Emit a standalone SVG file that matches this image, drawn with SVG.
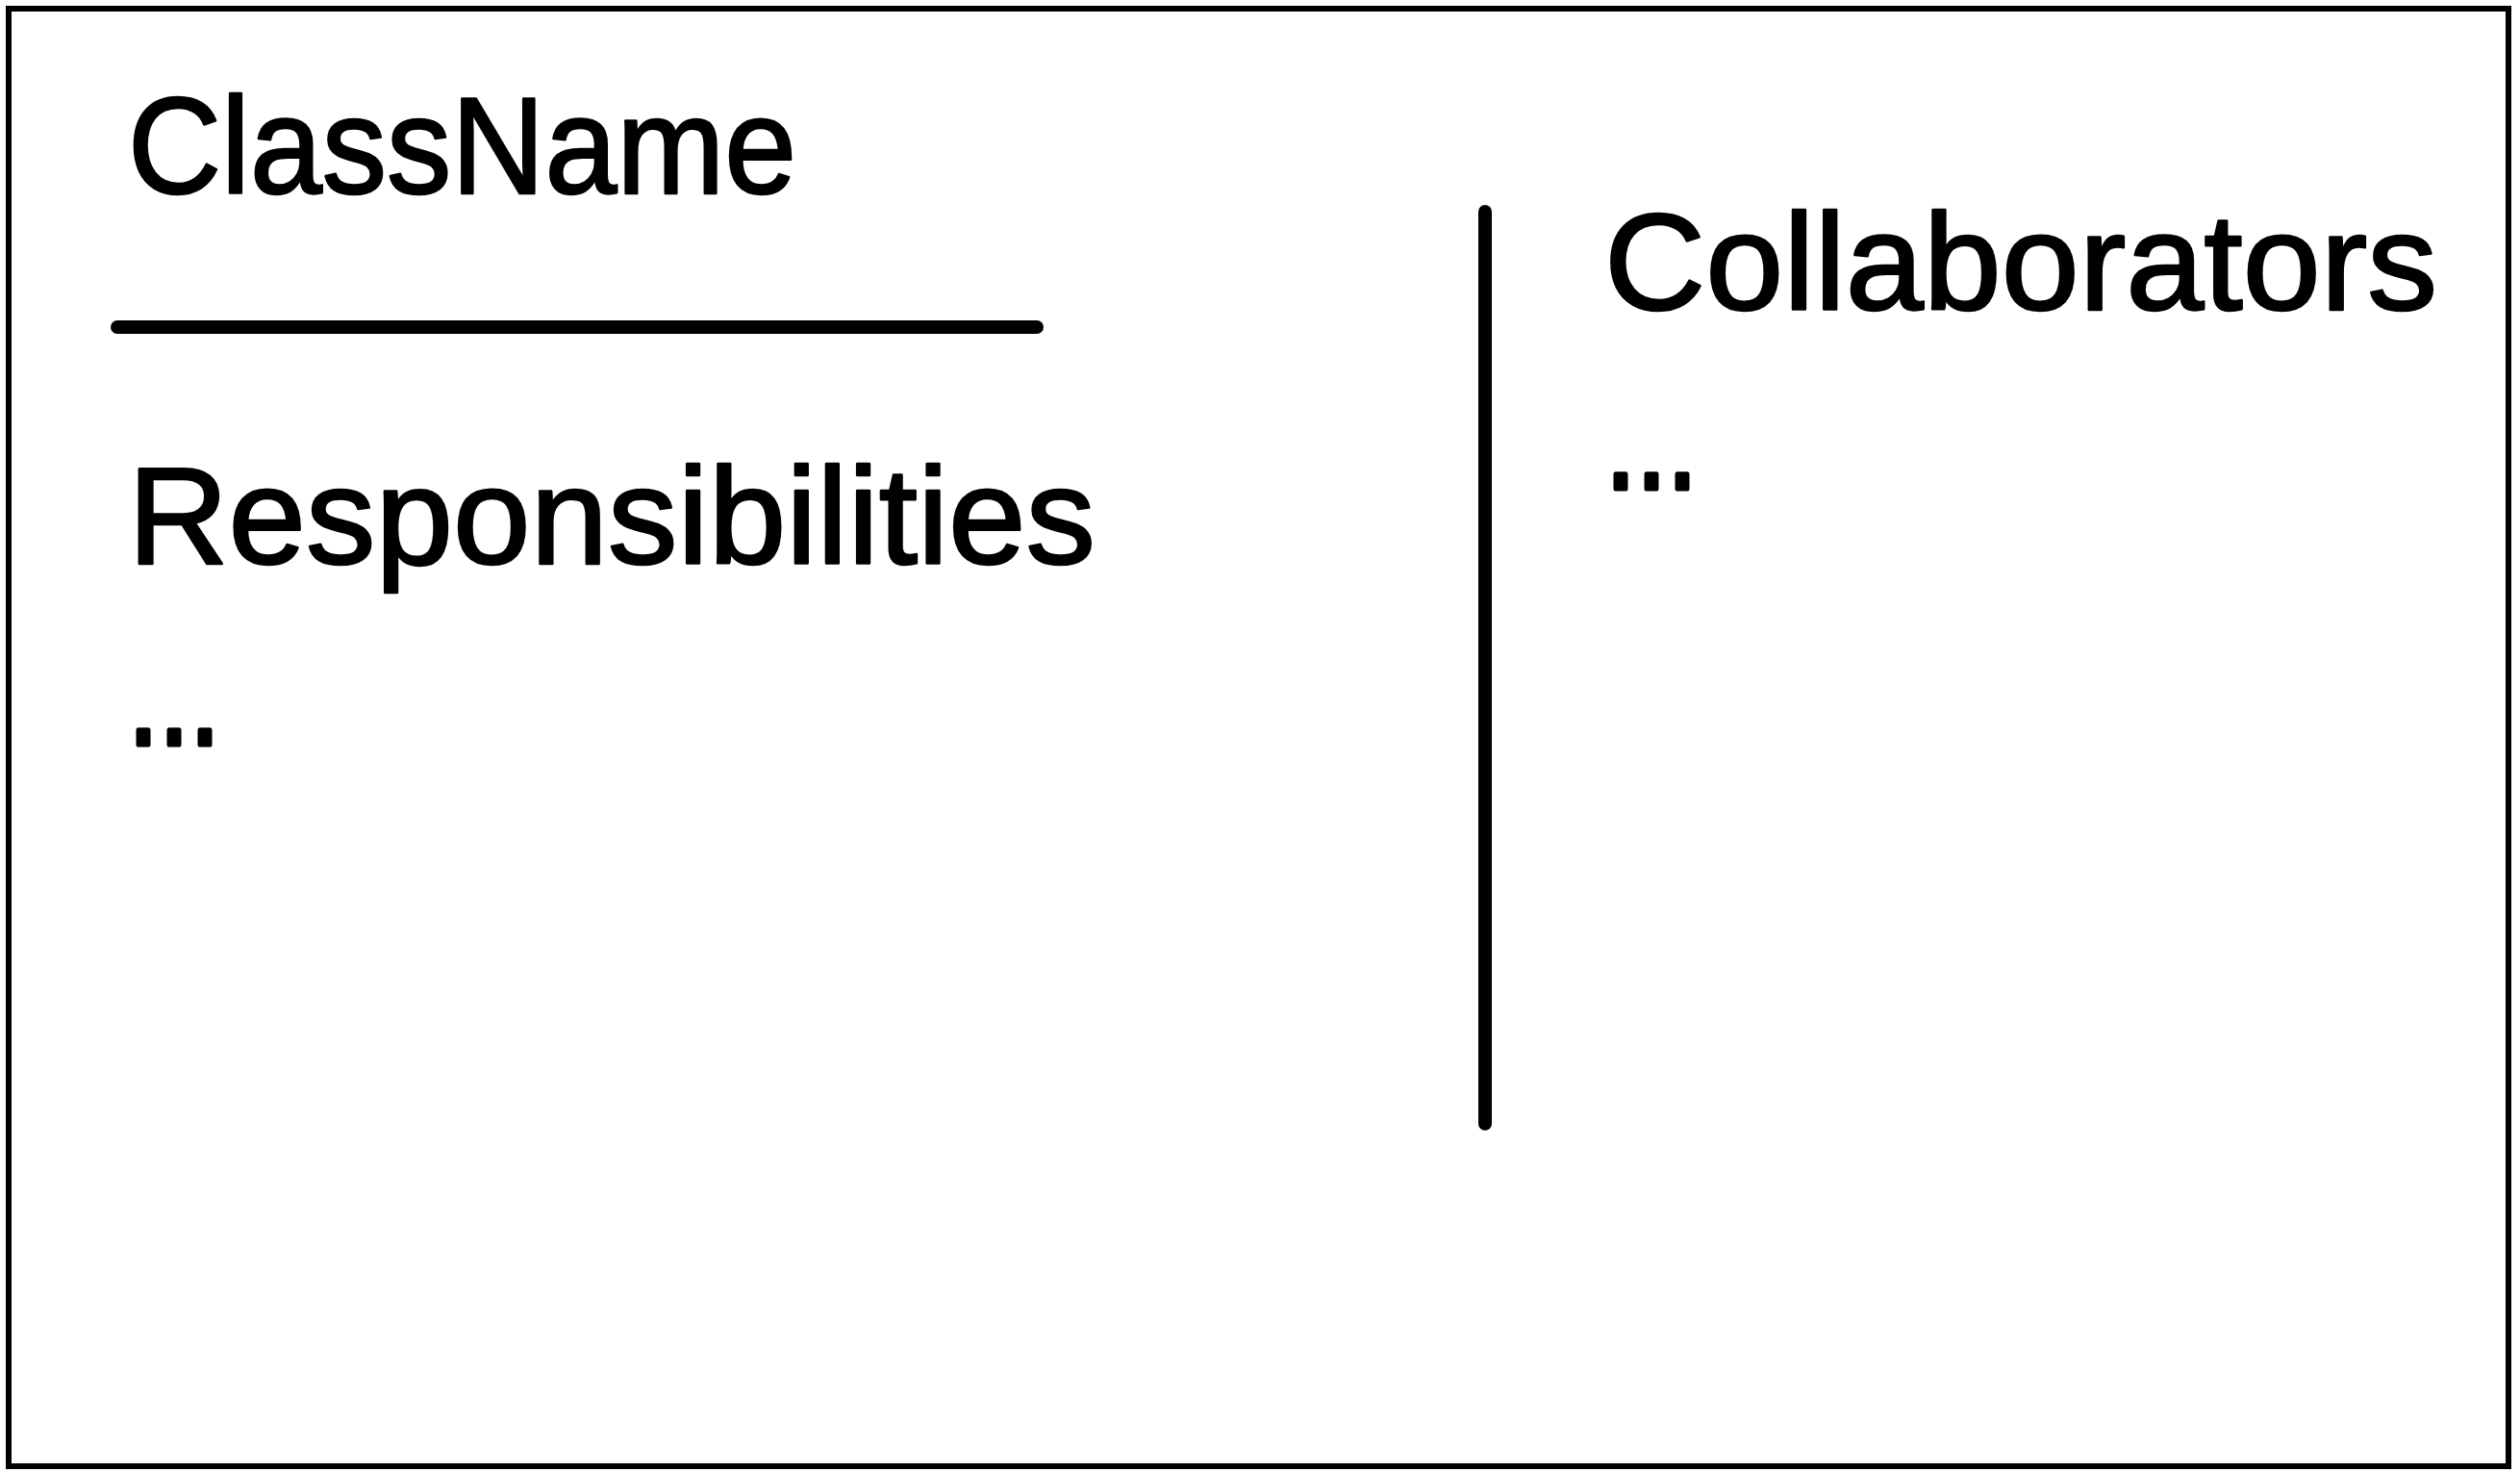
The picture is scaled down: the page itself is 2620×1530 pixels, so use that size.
<svg xmlns="http://www.w3.org/2000/svg" width="2620" height="1530" viewBox="0 0 2620 1530">
<style>
.t{font-family:"Liberation Sans","DejaVu Sans",sans-serif;font-size:142px;fill:#000;stroke:#000;stroke-width:2.5;stroke-linejoin:round}
.d{stroke-width:5}
.ln{stroke:#000;stroke-width:14;stroke-linecap:round;fill:none}
</style>
<rect x="0" y="0" width="2620" height="1530" fill="#fff"/>
<g id="card">
<rect x="9" y="9" width="2599" height="1515" fill="#fff" stroke="#000" stroke-width="6"/>
</g>
<g id="classname">
<text class="t" x="133" y="201" textLength="695" lengthAdjust="spacingAndGlyphs">ClassName</text>
</g>
<g id="connectors">
<line class="ln" x1="122" y1="340" x2="1078" y2="340"/>
<line class="ln" x1="1544" y1="220" x2="1544" y2="1168"/>
</g>
<g id="responsibilities">
<text class="t" x="133" y="586" textLength="1006" lengthAdjust="spacingAndGlyphs">Responsibilities</text>
<text class="t d" x="133" y="774" textLength="96" lengthAdjust="spacingAndGlyphs">...</text>
</g>
<g id="collaborators">
<text class="t" x="1668" y="322" textLength="866" lengthAdjust="spacingAndGlyphs">Collaborators</text>
<text class="t d" x="1669" y="508" textLength="96" lengthAdjust="spacingAndGlyphs">...</text>
</g>
</svg>
